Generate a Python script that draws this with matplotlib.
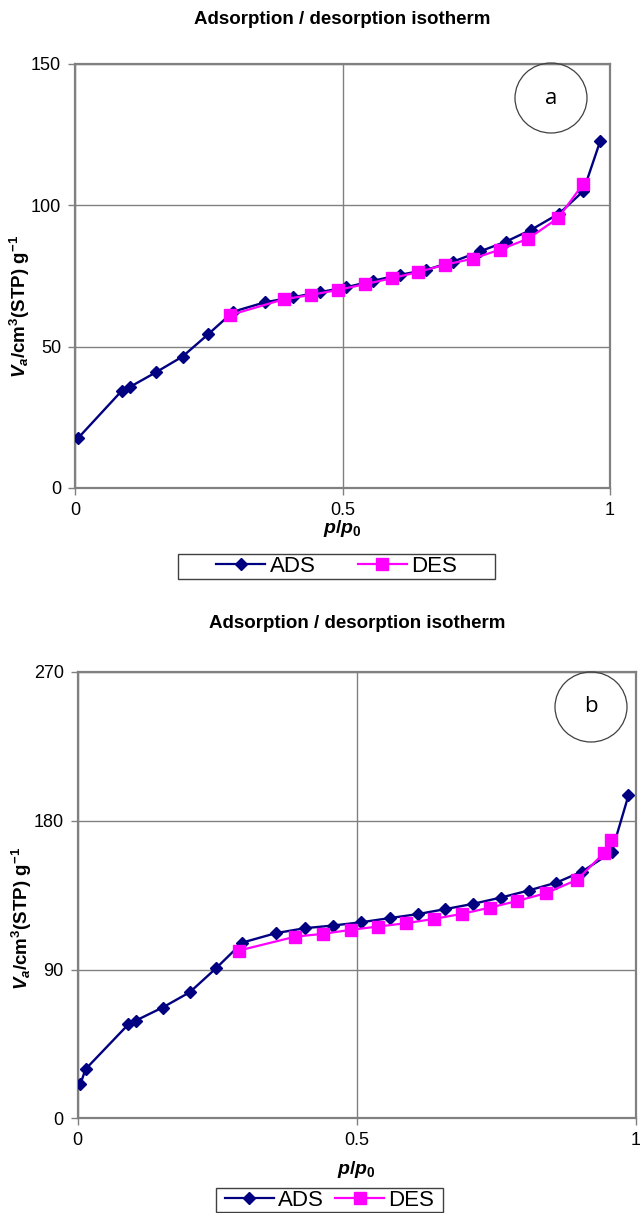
import matplotlib
matplotlib.use("Agg")
import matplotlib.pyplot as plt
from matplotlib.lines import Line2D
from matplotlib.patches import Ellipse, Rectangle

plt.rcParams['font.family'] = ['Liberation Sans', 'DejaVu Sans']
plt.rcParams['mathtext.fontset'] = 'custom'
plt.rcParams['mathtext.rm'] = 'Liberation Sans:bold'
plt.rcParams['mathtext.it'] = 'Liberation Sans:bold:italic'
plt.rcParams['mathtext.bf'] = 'Liberation Sans:bold'

# Data
ads_a_x = [0.006, 0.087, 0.103, 0.151, 0.201, 0.249, 0.296, 0.355, 0.408, 0.458, 0.507,
           0.557, 0.607, 0.657, 0.707, 0.757, 0.806, 0.853, 0.905, 0.950, 0.982]
ads_a_y = [17.7, 34.3, 35.8, 40.9, 46.5, 54.4, 62.4, 65.7, 67.5, 69.3, 71.0,
           73.3, 75.4, 77.2, 80.1, 83.7, 87.2, 91.4, 97.1, 105.0, 122.9]
des_a_x = [0.290, 0.391, 0.441, 0.492, 0.542, 0.592, 0.641, 0.692, 0.743, 0.794, 0.847, 0.903, 0.950]
des_a_y = [61.2, 66.8, 68.3, 70.1, 72.1, 74.2, 76.4, 79.0, 81.1, 84.3, 88.2, 95.5, 107.6]

ads_b_x = [0.005, 0.014, 0.091, 0.104, 0.152, 0.201, 0.248, 0.295, 0.355, 0.407, 0.457,
           0.508, 0.559, 0.609, 0.658, 0.708, 0.758, 0.808, 0.858, 0.904, 0.957, 0.987]
ads_b_y = [20.8, 29.7, 56.9, 59.1, 67.0, 76.3, 90.8, 106.3, 112.0, 115.0, 116.6,
           118.6, 121.1, 123.5, 126.5, 129.7, 133.5, 137.8, 142.6, 149.3, 161.0, 195.3]
des_b_x = [0.289, 0.390, 0.440, 0.489, 0.538, 0.588, 0.638, 0.689, 0.739, 0.788, 0.839,
           0.895, 0.944, 0.955]
des_b_y = [101.5, 109.9, 111.6, 114.0, 116.0, 118.0, 120.6, 123.7, 127.5, 131.5, 136.2,
           144.3, 160.8, 168.5]

x_ticks = [0, 0.5, 1]
x_labels = ['0', '0.5', '1']
y_ticks_a = [0, 50, 100, 150]
y_ticks_b = [0, 90, 180, 270]

TITLE = 'Adsorption / desorption isotherm'
YLABEL = r'$V_a$/cm$^3$(STP) g$^{-1}$'
XLABEL = r'$p/p_0$'
ADS_COLOR = '#000080'
DES_COLOR = '#FF00FF'
FRAME = '#808080'

W, H = 640, 1213


def fx(px):
    return px / W


def fy(py):
    return 1 - py / H


def draw_panel(fig, rect, ads_x, ads_y, des_x, des_y, yticks, letter, title_y,
               ylab_x, ylab_y, xlab_y, circ, legend_box, legend_gap):
    left, top, right, bottom = rect
    ax = fig.add_axes([fx(left), fy(bottom), fx(right - left), (bottom - top) / H])
    ax.plot(ads_x, ads_y, color=ADS_COLOR, lw=1.7, marker='D', ms=6.3, zorder=3)
    ax.plot(des_x, des_y, color=DES_COLOR, lw=1.6, marker='s', ms=9, zorder=4)
    ax.set_xlim(0, 1)
    ax.set_ylim(yticks[0], yticks[-1])
    ax.set_xticks(x_ticks)
    ax.set_xticklabels(x_labels)
    ax.set_yticks(yticks)
    ax.grid(True, color=FRAME, lw=1)
    ax.set_axisbelow(True)
    for s in ax.spines.values():
        s.set_color(FRAME)
        s.set_linewidth(1.6)
    ax.tick_params(direction='out', length=5, width=1, color=FRAME,
                   labelsize=13, pad=5)

    cx = (left + right) / 2
    fig.text(fx(cx), fy(title_y), TITLE, ha='center', va='center',
             fontsize=13.5, fontweight='bold')
    fig.text(fx(ylab_x), fy(ylab_y), YLABEL, rotation=90, ha='center', va='center',
             fontsize=13.5, fontweight='bold')
    fig.text(fx(cx), fy(xlab_y), XLABEL, ha='center', va='center', fontsize=14)

    ccx, ccy, cw, ch = circ
    e = Ellipse((fx(ccx), fy(ccy)), cw / W, ch / H, transform=fig.transFigure,
                fill=False, edgecolor='#404040', lw=0.9)
    fig.add_artist(e)
    fig.text(fx(ccx), fy(ccy), letter, ha='center', va='center', fontsize=16,
             family=['Open Sans', 'DejaVu Sans'])

    bl, bt, br, bb = legend_box
    fig.add_artist(Rectangle((fx(bl), fy(bb)), (br - bl) / W, (bb - bt) / H,
                             transform=fig.transFigure, fill=False,
                             edgecolor='#404040', lw=1))
    handles = [Line2D([], [], color=ADS_COLOR, lw=1.6, marker='D', ms=6.3),
               Line2D([], [], color=DES_COLOR, lw=1.6, marker='s', ms=9)]
    fig.legend(handles, ['ADS', 'DES'], loc='center',
               bbox_to_anchor=(fx((bl + br) / 2), fy((bt + bb) / 2)),
               ncol=2, frameon=False, fontsize=16, handlelength=2.2,
               handletextpad=0.2, columnspacing=legend_gap, numpoints=1,
               borderpad=0, borderaxespad=0)
    return ax


fig = plt.figure(figsize=(W / 100, H / 100), dpi=100)

draw_panel(fig, (75, 64, 610, 488), ads_a_x, ads_a_y, des_a_x, des_a_y, y_ticks_a, 'a',
           title_y=20, ylab_x=20, ylab_y=306, xlab_y=528,
           circ=(551, 98, 72, 70), legend_box=(178, 554, 495, 579), legend_gap=1.9)

draw_panel(fig, (77.7, 672, 635.7, 1118.3), ads_b_x, ads_b_y, des_b_x, des_b_y, y_ticks_b, 'b',
           title_y=624, ylab_x=22, ylab_y=918, xlab_y=1170,
           circ=(591, 707, 72, 70), legend_box=(216, 1188, 443, 1212), legend_gap=0.5)

fig.savefig('out.png', dpi=100)
